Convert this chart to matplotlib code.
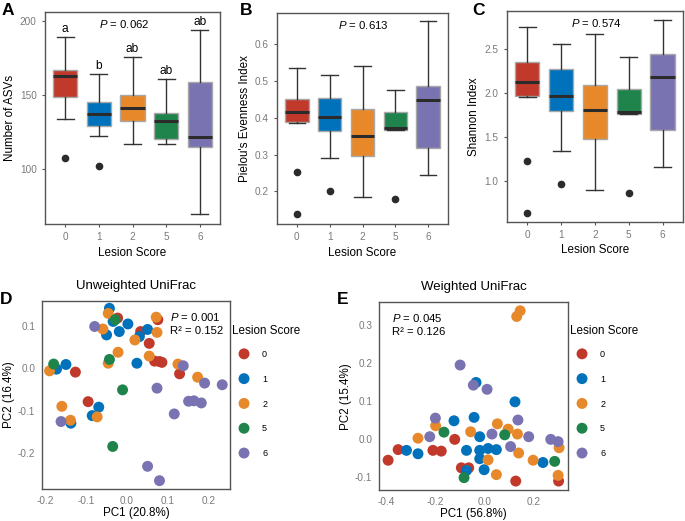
import matplotlib
matplotlib.use("Agg")
import matplotlib.pyplot as plt

plt.rcParams['font.family'] = ['Liberation Sans', 'DejaVu Sans']
plt.rcParams['mathtext.fontset'] = 'custom'
plt.rcParams['mathtext.it'] = 'Liberation Sans:italic'
plt.rcParams['mathtext.rm'] = 'Liberation Sans'
plt.rcParams['axes.unicode_minus'] = False

lesion = ['0', '1', '2', '5', '6']
colors = ['#C0392B', '#0072BB', '#E7892B', '#1F844B', '#7A73B2']

# A: number of ASVs
asv_whislo = [133.6, 122.3, 117.1, 117.1, 69.8]
asv_q1 = [148.6, 129.3, 132.2, 120.5, 114.9]
asv_med = [162.6, 137.2, 141.4, 132.2, 121.4]
asv_q3 = [166.7, 145.0, 149.8, 138.0, 158.6]
asv_whishi = [189.0, 164.2, 175.9, 160.8, 193.9]
asv_fliers = [[107.4], [102.2], [], [], []]
asv_letters = ['a', 'b', 'ab', 'ab', 'ab']

# B: Pielou's evenness
even_whislo = [0.387, 0.291, 0.185, 0.368, 0.244]
even_q1 = [0.389, 0.364, 0.295, 0.368, 0.317]
even_med = [0.415, 0.401, 0.350, 0.373, 0.448]
even_q3 = [0.451, 0.455, 0.423, 0.415, 0.487]
even_whishi = [0.536, 0.516, 0.540, 0.475, 0.663]
even_fliers = [[0.252, 0.137], [0.202], [], [0.180], []]

# C: Shannon
shan_whislo = [1.958, 1.341, 0.901, 1.765, 1.156]
shan_q1 = [1.962, 1.792, 1.481, 1.765, 1.583]
shan_med = [2.125, 1.970, 1.803, 1.788, 2.182]
shan_q3 = [2.352, 2.269, 2.094, 2.045, 2.443]
shan_whishi = [2.746, 2.561, 2.667, 2.413, 2.830]
shan_fliers = [[1.224, 0.640], [0.966], [], [0.860], []]

# D: unweighted UniFrac PCoA
uw_x = {
    '0': [-0.023, 0.075, 0.033, 0.054, 0.067, 0.079, 0.085, 0.128, -0.126, -0.095],
    '1': [-0.043, -0.034, 0.002, -0.019, -0.050, 0.050, 0.030, 0.024, -0.177, -0.172, -0.149, -0.069, -0.085, -0.137],
    '2': [-0.046, -0.059, 0.071, 0.073, 0.019, -0.022, -0.046, 0.054, 0.124, -0.189, 0.172, -0.159, -0.073, -0.138],
    '5': [-0.029, -0.043, -0.179, -0.011, -0.035],
    '6': [-0.079, 0.137, 0.189, 0.232, 0.073, 0.150, 0.163, 0.181, 0.115, -0.161, 0.050, 0.079],
}
uw_y = {
    '0': [0.119, 0.115, 0.087, 0.059, 0.017, 0.016, 0.014, -0.013, -0.009, -0.079],
    '1': [0.142, 0.111, 0.105, 0.087, 0.079, 0.092, 0.075, 0.012, 0.002, -0.002, 0.009, -0.092, -0.112, -0.130],
    '2': [0.130, 0.093, 0.121, 0.085, 0.067, 0.038, 0.012, 0.029, 0.010, -0.006, -0.021, -0.090, -0.115, -0.123],
    '5': [0.115, 0.021, 0.010, -0.051, -0.185],
    '6': [0.099, 0.006, -0.035, -0.039, -0.047, -0.078, -0.077, -0.082, -0.108, -0.126, -0.232, -0.266],
}

# E: weighted UniFrac PCoA
w_x = {
    '0': [-0.352, -0.393, -0.210, -0.176, -0.121, -0.094, -0.064, 0.128, 0.303],
    '1': [-0.034, 0.125, -0.124, -0.042, -0.019, -0.318, -0.271, -0.073, -0.019, 0.015, 0.049, -0.019, 0.239, -0.073, -0.001],
    '2': [0.146, 0.132, -0.199, -0.271, 0.053, 0.097, -0.056, 0.135, 0.305, 0.015, 0.140, 0.199, 0.049, 0.301],
    '5': [-0.165, 0.083, 0.287, -0.083],
    '6': [-0.099, -0.045, 0.011, -0.200, 0.137, -0.223, 0.031, 0.181, 0.271, 0.301, 0.107],
}
w_y = {
    '0': [-0.028, -0.056, -0.030, -0.032, -0.001, -0.076, -0.076, -0.111, -0.111],
    '1': [0.149, 0.098, 0.048, 0.057, 0.006, -0.030, -0.039, -0.030, -0.030, -0.025, -0.028, -0.052, -0.062, -0.083, -0.081],
    '2': [0.338, 0.323, 0.035, 0.002, 0.040, 0.026, 0.019, 0.013, -0.023, -0.055, -0.037, -0.056, -0.094, -0.096],
    '5': [0.018, 0.011, -0.059, -0.102],
    '6': [0.195, 0.142, 0.131, 0.055, 0.050, 0.006, 0.013, 0.006, -0.001, -0.007, -0.020],
}

tick_grey = '#7A7A7A'
frame_grey = '#555555'

fig = plt.figure(figsize=(6.85, 5.21), dpi=100)


def style_axes(ax, ticks=True):
    for s in ax.spines.values():
        s.set_color(frame_grey)
        s.set_linewidth(1.0)
    if ticks:
        ax.tick_params(labelsize=7.2, labelcolor=tick_grey, color=frame_grey,
                       length=2.5, width=0.8, pad=3.5)
    else:
        ax.tick_params(labelsize=7.2, labelcolor=tick_grey, length=0, pad=5)


def box_panel(rect, whislo, q1, med, q3, whishi, fliers, ylabel, ylim, yticks):
    ax = fig.add_axes(rect)
    stats = []
    for i in range(len(lesion)):
        stats.append(dict(whislo=whislo[i], q1=q1[i], med=med[i], q3=q3[i],
                          whishi=whishi[i], fliers=fliers[i]))
    pos = list(range(1, len(lesion) + 1))
    bp = ax.bxp(stats, positions=pos, widths=0.72, patch_artist=True, capwidths=0.5,
                boxprops=dict(edgecolor='#A8A8A8', linewidth=1.0),
                medianprops=dict(color='#2b2b2b', linewidth=2.2),
                whiskerprops=dict(color='#333333', linewidth=1.0),
                capprops=dict(color='#333333', linewidth=1.0),
                flierprops=dict(marker='o', markerfacecolor='#2b2b2b',
                                markeredgecolor='#2b2b2b', markersize=4.5))
    for patch, c in zip(bp['boxes'], colors):
        patch.set_facecolor(c)
    ax.set_xticks(pos)
    ax.set_xticklabels(lesion)
    ax.set_xlim(0.4, 5.6)
    ax.set_ylim(*ylim)
    ax.set_yticks(yticks)
    ax.set_xlabel('Lesion Score', fontsize=8.4, labelpad=3)
    ax.set_ylabel(ylabel, fontsize=8.4, labelpad=3)
    style_axes(ax)
    return ax


axA = box_panel([0.0657, 0.570, 0.2555, 0.4069], asv_whislo, asv_q1, asv_med, asv_q3,
                asv_whishi, asv_fliers, 'Number of ASVs', (63, 206), [100, 150, 200])
for i, lt in enumerate(asv_letters):
    axA.annotate(lt, (i + 1, asv_whishi[i]), xytext=(0, 1.5), textcoords='offset points',
                 ha='center', va='bottom', fontsize=8.6)
axA.text(0.451, 0.943, '$P$ = 0.062', transform=axA.transAxes, ha='center', va='center', fontsize=8.2)

axB = box_panel([0.4044, 0.570, 0.2496, 0.405], even_whislo, even_q1, even_med, even_q3,
                even_whishi, even_fliers, "Pielou's Evenness Index", (0.111, 0.685),
                [0.2, 0.3, 0.4, 0.5, 0.6])
axB.text(0.503, 0.943, '$P$ = 0.613', transform=axB.transAxes, ha='center', va='center', fontsize=8.2)

axC = box_panel([0.740, 0.574, 0.257, 0.4056], shan_whislo, shan_q1, shan_med, shan_q3,
                shan_whishi, shan_fliers, 'Shannon Index', (0.534, 2.935),
                [1.0, 1.5, 2.0, 2.5])
axC.text(0.506, 0.942, '$P$ = 0.574', transform=axC.transAxes, ha='center', va='center', fontsize=8.2)


def pcoa_panel(rect, xs, ys, title, xlabel, ylabel, xlim, ylim, xticks, yticks,
               ptext, r2text, tx, legend_x):
    ax = fig.add_axes(rect)
    for lv, c in zip(lesion, colors):
        ax.scatter(xs[lv], ys[lv], s=62, color=c, edgecolors='none', label=lv)
    ax.set_xlim(*xlim)
    ax.set_ylim(*ylim)
    ax.set_xticks(xticks)
    ax.set_yticks(yticks)
    ax.set_xlabel(xlabel, fontsize=8.4, labelpad=1)
    ax.set_ylabel(ylabel, fontsize=8.4, labelpad=2)
    ax.set_title(title, fontsize=9.5, pad=9)
    style_axes(ax, ticks=False)
    ax.text(tx, 0.918, ptext, transform=ax.transAxes, ha='left', va='center', fontsize=8.2)
    ax.text(tx, 0.843, r2text, transform=ax.transAxes, ha='left', va='center', fontsize=8.2)
    fig.text(legend_x / 685, 1 - 331 / 521, 'Lesion Score', fontsize=8.4,
             ha='left', va='center')
    ax.legend(loc='upper left', frameon=False,
              bbox_to_anchor=((legend_x + 3) / 685, 1 - 350 / 521),
              bbox_transform=fig.transFigure, fontsize=6.5, labelspacing=1.75,
              handletextpad=1.0, borderpad=0, borderaxespad=0,
              scatteryoffsets=[0.5])
    return ax


pcoa_panel([0.0618, 0.062, 0.274, 0.360], uw_x, uw_y, 'Unweighted UniFrac',
           'PC1 (20.8%)', 'PC2 (16.4%)', (-0.2066, 0.251), (-0.285, 0.159),
           [-0.2, -0.1, 0.0, 0.1, 0.2], [-0.2, -0.1, 0.0, 0.1],
           '$P$ = 0.001', 'R² = 0.152', 0.68, 232)

pcoa_panel([0.5537, 0.0595, 0.275, 0.360], w_x, w_y, 'Weighted UniFrac',
           'PC1 (56.8%)', 'PC2 (15.4%)', (-0.429, 0.340), (-0.1345, 0.360),
           [-0.4, -0.2, 0.0, 0.2], [-0.1, 0.0, 0.1, 0.2, 0.3],
           '$P$ = 0.045', 'R² = 0.126', 0.067, 570)

for lab, x, y in [('A', 2, 3), ('B', 240, 3), ('C', 472, 3), ('D', 0, 292), ('E', 337, 292)]:
    fig.text(x / 685, 1 - y / 521, lab, fontsize=12.5, fontweight='bold', ha='left', va='top')

fig.savefig('out.png', dpi=100)
